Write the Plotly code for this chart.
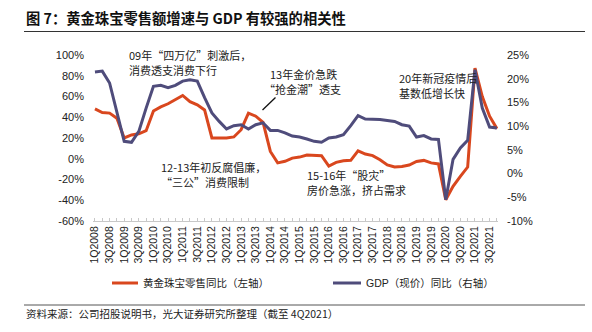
import plotly.graph_objects as go

# Quarter labels 1Q2008 .. 4Q2021
quarters = [f"{q}Q{y}" for y in range(2008, 2022) for q in (1, 2, 3, 4)]

# Gold & jewellery retail sales, YoY (%), left axis
gold_yoy = [48, 44.6, 44, 39, 20, 23, 24, 27, 46, 50, 53, 57, 61, 55, 52, 47,
            20, 20, 20, 21, 28, 44, 41, 35, 7, -4, -2.5, 0.6, 1.6, 3.5, 3, 3,
            -7, -3.5, -2, -1.5, 7.7, 4.5, 3, -1, -6, -8, -7.4, -6, -2.6, -1.6, -4, -5,
            -39.5, -26.6, -17, -8, 87.4, 60, 41, 29]

# Nominal GDP, YoY (%), right axis
gdp_yoy = [21.4, 21.6, 19.1, 12.8, 6.8, 6.6, 8.9, 13.8, 18.4, 18.6, 18.1, 18.6, 19.5, 19.8, 19.5, 16,
           12.8, 11, 9.4, 10.1, 10.3, 9.4, 10.3, 10.7, 9.1, 9.1, 8.6, 7.9, 7.7, 7.3, 6.8, 6.6,
           7.5, 7.7, 8.2, 10.1, 12.2, 11.5, 11.5, 11.4, 11.2, 11, 10.3, 10, 7.7, 8, 7.3, 7.2,
           -5.5, 3, 5.4, 7, 21.9, 13.8, 9.8, 9.6]

series_names = ["黄金珠宝零售同比（左轴）", "GDP（现价）同比（右轴）"]

left_ticks = [-60, -40, -20, 0, 20, 40, 60, 80, 100]
right_ticks = [-10, -5, 0, 5, 10, 15, 20, 25]

RED = "#D9471E"
PURPLE = "#4F4C7B"
CJK = "Noto Sans CJK SC"
LATIN = "Liberation Sans, Arial, Noto Sans CJK SC"

W, H = 592, 332
L, R, T, B = 93, 498, 55, 221


def px(x):
    return (x - L) / (R - L)


def py(y):
    return (B - y) / (B - T)


fig = go.Figure()
fig.add_trace(go.Scatter(x=quarters, y=gold_yoy, mode="lines", name=series_names[0],
                         line=dict(color=RED, width=3), showlegend=False))
fig.add_trace(go.Scatter(x=quarters, y=gdp_yoy, mode="lines", name=series_names[1],
                         line=dict(color=PURPLE, width=3), yaxis="y2", showlegend=False))

ticktext = [q if i % 2 == 0 else "" for i, q in enumerate(quarters)]

fig.update_layout(
    width=W, height=H,
    margin=dict(l=L, r=W - R, t=T, b=H - B, pad=0),
    paper_bgcolor="white", plot_bgcolor="white",
    font=dict(family=LATIN, color="#222", size=11),
    xaxis=dict(type="category", range=[-0.27, 55.15], tickmode="array",
               tickvals=quarters, ticktext=ticktext, tickangle=-90,
               ticks="inside", ticklen=3, tickcolor="#c8c8c8", tickwidth=1,
               showline=True, linecolor="#c8c8c8", linewidth=1,
               showgrid=False, zeroline=False,
               tickfont=dict(size=10.5, family=LATIN, color="#222")),
    yaxis=dict(range=[-60, 100], tickmode="array", tickvals=left_ticks,
               ticktext=[f"{v}%" for v in left_ticks],
               showgrid=False, zeroline=False, showline=False, ticks="",
               ticklabelstandoff=8, tickfont=dict(size=11, color="#222")),
    yaxis2=dict(range=[-10, 25], tickmode="array", tickvals=right_ticks,
                ticktext=[f"{v}%" for v in right_ticks],
                overlaying="y", side="right", showgrid=False, zeroline=False,
                showline=False, ticks="", ticklabelstandoff=8,
                tickfont=dict(size=11, color="#222")),
    showlegend=False,
)

# Legend row: colour swatch + label for each series
legend_items = [(series_names[0], RED, 112, 138), (series_names[1], PURPLE, 333, 361)]
for name, color, x0, x1 in legend_items:
    fig.add_shape(type="line", xref="paper", yref="paper", x0=px(x0), x1=px(x1),
                  y0=py(283), y1=py(283), line=dict(color=color, width=3))
    fig.add_annotation(text=name, xref="paper", yref="paper", x=px(x1 + 3), y=py(283),
                       xanchor="left", yanchor="middle", showarrow=False,
                       font=dict(family=LATIN, size=10.5, color="#222"))

# Title, rules and source line
fig.add_annotation(text="<b>图 7：黄金珠宝零售额增速与 GDP 有较强的相关性</b>",
                   xref="paper", yref="paper", x=px(24), y=py(17),
                   xanchor="left", yanchor="middle", showarrow=False,
                   font=dict(family=CJK, size=14.3, color="#111"))
fig.add_shape(type="line", xref="paper", yref="paper", x0=px(24), x1=px(585),
              y0=py(31.5), y1=py(31.5), line=dict(color="#333", width=1))
fig.add_shape(type="line", xref="paper", yref="paper", x0=px(24), x1=px(585),
              y0=py(305), y1=py(305), line=dict(color="#555", width=1))
fig.add_annotation(text="资料来源：公司招股说明书，光大证券研究所整理（截至 4Q2021）",
                   xref="paper", yref="paper", x=px(24), y=py(313.5),
                   xanchor="left", yanchor="middle", showarrow=False,
                   font=dict(family=CJK, size=10.5, color="#222"))

# Event notes
notes = [
    ("09年“四万亿”刺激后，", 127, 55),
    ("消费透支消费下行", 127, 70),
    ("13年金价急跌", 268, 74),
    ("“抢金潮”透支", 262, 89),
    ("12-13年初反腐倡廉，", 159, 167),
    ("“三公”消费限制", 159, 182),
    ("15-16年“股灾”", 305, 175),
    ("房价急涨，挤占需求", 305, 190),
    ("20年新冠疫情后", 397, 78),
    ("基数低增长快", 397, 93),
]
for txt, x, y in notes:
    fig.add_annotation(text=txt, xref="paper", yref="paper", x=px(x), y=py(y),
                       xanchor="left", yanchor="middle", showarrow=False,
                       font=dict(family=CJK, size=11, color="#222"))

fig.add_shape(type="line", xref="paper", yref="paper", x0=px(275.5), y0=py(97.5),
              x1=px(262.5), y1=py(110), line=dict(color="#111", width=1.3))

fig.write_html("out.html")
